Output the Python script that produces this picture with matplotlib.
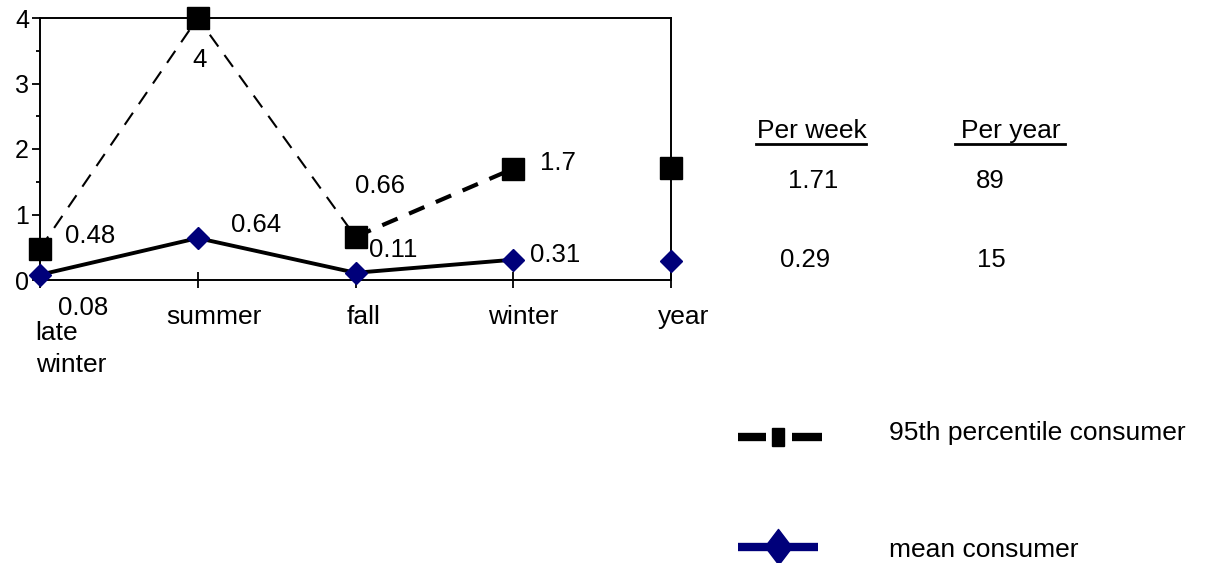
import numpy as np
import matplotlib
matplotlib.use('Agg')
import matplotlib.pyplot as plt
from matplotlib.lines import Line2D
from matplotlib.patches import Rectangle

plt.rcParams['font.family'] = ['Liberation Sans', 'DejaVu Sans']

# data
categories = ['late\nwinter', 'summer', 'fall', 'winter', 'year']
p95_seasons = [0.48, 4, 0.66, 1.7]
mean_seasons = [0.08, 0.64, 0.11, 0.31]
p95_year = 1.71
mean_year = 0.29
p95_labels = ['0.48', '4', '0.66', '1.7']
mean_labels = ['0.08', '0.64', '0.11', '0.31']
table_headers = ['Per week', 'Per year']
table_rows = [['1.71', '89'], ['0.29', '15']]
legend_names = ['95th percentile consumer', 'mean consumer']

NAVY = '#00007a'
W, H = 1214, 563
FS = 19


def fx(px):
    return px / W


def fy(py):
    return 1 - py / H


fig = plt.figure(figsize=(W / 100, H / 100), dpi=100)
ax = fig.add_axes([fx(40), fy(280), 631 / W, 262 / H])

xs = np.arange(len(categories))

# 95th percentile: thin dashes for first three points, thicker from fall to winter
ax.plot(xs[:3], p95_seasons[:3], color='black', lw=1.5, ls=(0, (7, 5)), zorder=2)
ax.plot(xs[2:4], p95_seasons[2:4], color='black', lw=3, ls=(0, (4, 3)), zorder=2)
ax.plot(xs[:4], p95_seasons, ls='none', marker='s', ms=16, color='black', zorder=4,
        clip_on=False)
ax.plot(xs[4], p95_year, ls='none', marker='s', ms=16, color='black', zorder=4,
        clip_on=False)

# mean consumer
ax.plot(xs[:4], mean_seasons, color='black', lw=2.8, zorder=3)
ax.plot(xs[:4], mean_seasons, ls='none', marker='D', ms=11, color=NAVY, zorder=5,
        clip_on=False)
ax.plot(xs[4], mean_year, ls='none', marker='D', ms=11, color=NAVY, zorder=5,
        clip_on=False)

# data labels (offsets in points, baseline anchored)
p95_offsets = [(18, 4), (1.5, -35), (-0.7, 31.5), (19, -1)]
for i, (v, s) in enumerate(zip(p95_seasons, p95_labels)):
    ax.annotate(s, (xs[i], v), xytext=p95_offsets[i], textcoords='offset points',
                fontsize=18.5, ha='left' if i != 1 else 'center', va='baseline')
mean_offsets = [(13, -29), (24, 4.3), (10, 11.4), (12, -1.7)]
for i, (v, s) in enumerate(zip(mean_seasons, mean_labels)):
    ax.annotate(s, (xs[i], v), xytext=mean_offsets[i], textcoords='offset points',
                fontsize=18.5, ha='left', va='baseline')

ax.set_xlim(0, 4)
ax.set_ylim(0, 4)
ax.set_yticks([0, 1, 2, 3, 4])
ax.set_yticks(np.arange(0.5, 4, 1), minor=True)
ax.tick_params(axis='y', which='major', length=6, width=1.3, labelsize=18, pad=2)
ax.tick_params(axis='y', which='minor', length=3, width=1.3)
ax.set_xticks(xs)
ax.set_xticklabels([''] * len(categories))
ax.tick_params(axis='x', direction='inout', length=12, width=1.3)

# category labels sit a little right of their ticks, like the original
label_dx = [0, 12, 6, 7, 9]
for i, c in enumerate(categories):
    if i == 0:
        fig.text(fx(35), fy(340), 'late', ha='left', va='baseline', fontsize=FS)
        fig.text(fx(36), fy(372), 'winter', ha='left', va='baseline', fontsize=FS)
    else:
        ax.annotate(c, (xs[i], 0), xytext=(label_dx[i], -32),
                    textcoords='offset points', ha='center', va='baseline',
                    fontsize=FS)

for sp in ax.spines.values():
    sp.set_linewidth(1.4)

# little table of per week / per year
header_x = [812, 1011]
for x, h in zip(header_x, table_headers):
    fig.text(fx(x), fy(138), h, ha='center', va='baseline', fontsize=FS)
    fig.add_artist(Line2D([fx(x - 56), fx(x + 54)], [fy(143.5)] * 2,
                          color='black', lw=2))
row_y = [188, 267]
col_x = [[813, 990], [805, 991]]
for ry, cxs, row in zip(row_y, col_x, table_rows):
    for cx, val in zip(cxs, row):
        fig.text(fx(cx), fy(ry), val, ha='center', va='baseline', fontsize=18.5)

# legend drawn by hand
fig.add_artist(Line2D([fx(738), fx(766)], [fy(437)] * 2, color='black', lw=6,
                      solid_capstyle='butt'))
fig.add_artist(Line2D([fx(792), fx(822)], [fy(437)] * 2, color='black', lw=6,
                      solid_capstyle='butt'))
fig.add_artist(Rectangle((fx(772), fy(446)), 12 / W, 18 / H, color='black',
                         transform=fig.transFigure))
fig.add_artist(Line2D([fx(738), fx(818)], [fy(547)] * 2, color=NAVY, lw=6,
                      solid_capstyle='butt'))
diamond = [(-0.38, 0), (0, 0.5), (0.38, 0), (0, -0.5)]
fig.add_artist(Line2D([fx(778)], [fy(547)], marker=diamond, ms=26,
                      color=NAVY, ls='none'))
leg_y = [440, 557]
for y, name in zip(leg_y, legend_names):
    fig.text(fx(889), fy(y), name, ha='left', va='baseline', fontsize=FS)

fig.savefig('out.png', dpi=100)
